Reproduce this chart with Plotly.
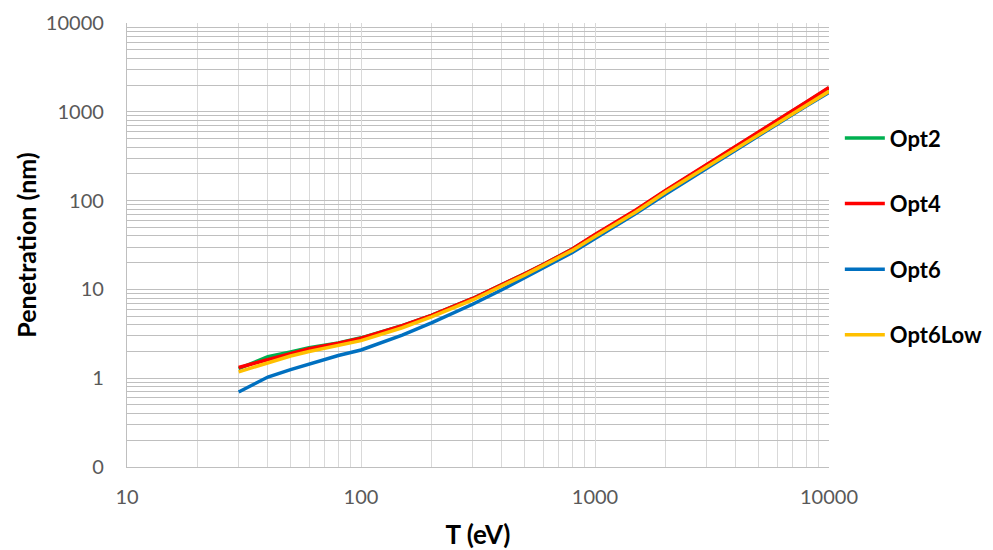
import plotly.graph_objects as go

T_eV = [30, 40, 50, 60, 80, 100, 150, 200, 300, 400, 500, 600, 800, 1000,
        1500, 2000, 3000, 4000, 5000, 6000, 8000, 10000]

opt2 = [1.28, 1.75, 1.98, 2.2, 2.5, 2.85, 3.9, 5.1, 7.9, 11.2, 15.0, 19.0, 28.5, 41.0,
        78, 128, 250, 400, 585, 790, 1270, 1850]
opt4 = [1.32, 1.62, 1.92, 2.15, 2.48, 2.82, 3.9, 5.1, 7.9, 11.2, 15.0, 19.0, 28.5, 41.5,
        79, 130, 253, 405, 595, 800, 1290, 1880]
opt6 = [0.70, 1.03, 1.25, 1.45, 1.8, 2.08, 3.05, 4.2, 6.8, 9.9, 13.5, 17.3, 26.0, 37.5,
        72, 118, 232, 370, 540, 725, 1160, 1650]
opt6low = [1.18, 1.5, 1.78, 2.0, 2.35, 2.65, 3.7, 4.9, 7.6, 10.8, 14.5, 18.5, 27.5, 39.5,
           75, 124, 240, 383, 560, 755, 1210, 1700]

series = [("Opt2", opt2, "#00B050"), ("Opt4", opt4, "#FF0000"),
          ("Opt6", opt6, "#0070C0"), ("Opt6Low", opt6low, "#FFC000")]

y_tickvals = [0.1, 1, 10, 100, 1000, 10000]
y_ticktext = ["0", "1", "10", "100", "1000", "10000"]
x_tickvals = [10, 100, 1000, 10000]
x_ticktext = ["10", "100", "1000", "10000"]

fig = go.Figure()
for name, vals, col in series:
    fig.add_trace(go.Scatter(x=T_eV, y=vals, mode="lines", name=name,
                             legendgroup=name,
                             line=dict(color=col, width=3.5)))

minor_x = [m * 10 ** d for d in range(1, 4) for m in range(2, 10)]
minor_y = [m * 10 ** d for d in range(-1, 4) for m in range(2, 10)]

font_fam = "Lato, 'Noto Sans', sans-serif"
fig.update_layout(
    width=985, height=542,
    margin=dict(l=119, r=164, t=15, b=83),
    plot_bgcolor="white", paper_bgcolor="white",
    font=dict(family=font_fam, color="#595959"),
    showlegend=True,
    legend=dict(xref="container", yref="container",
                x=0.8445, xanchor="left", y=0.578, yanchor="middle",
                font=dict(size=22, color="#000000", family=font_fam, weight="bold"),
                tracegroupgap=34, itemwidth=40,
                bgcolor="rgba(0,0,0,0)"),
    xaxis=dict(type="log", range=[1, 4], tickvals=x_tickvals, ticktext=x_ticktext,
               automargin=False,
               showgrid=True, gridcolor="#d9d9d9", gridwidth=1.3,
               minor=dict(tickvals=minor_x, showgrid=True, gridcolor="#d9d9d9", gridwidth=1.3),
               showline=True, linecolor="#bfbfbf", linewidth=1.3,
               ticks="", ticklabelstandoff=12, tickfont=dict(size=20, color="#595959"),
               title=dict(text="T (eV)", font=dict(size=26, color="#000000", weight="bold"),
                          standoff=24),
               zeroline=False),
    yaxis=dict(type="log", range=[-1, 4], tickvals=y_tickvals, ticktext=y_ticktext,
               automargin=False,
               showgrid=True, gridcolor="#bfbfbf", gridwidth=1.3,
               minor=dict(tickvals=minor_y, showgrid=True, gridcolor="#bfbfbf", gridwidth=1.3),
               showline=True, linecolor="#bfbfbf", linewidth=1.3,
               ticks="", ticklabelstandoff=18, tickfont=dict(size=20, color="#595959"),
               title=dict(text="Penetration (nm)", font=dict(size=25, color="#000000", weight="bold"),
                          standoff=2),
               zeroline=False),
)

fig.write_html("out.html")
